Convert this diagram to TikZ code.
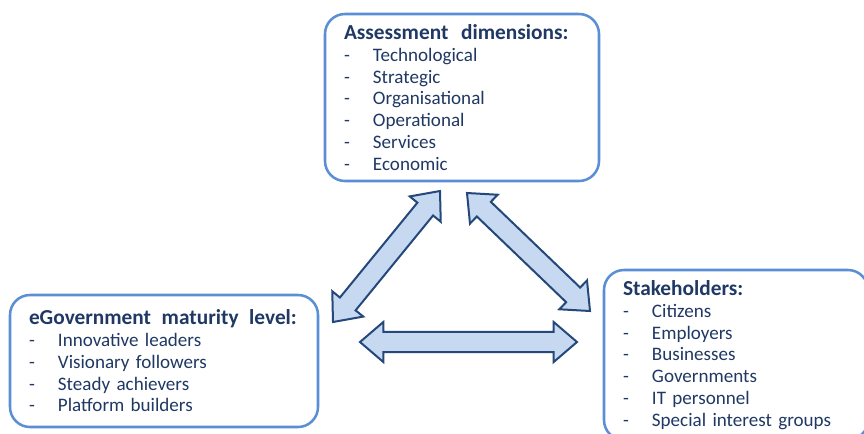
\documentclass[tikz,border=0pt]{standalone}
\usepackage{fontspec}
\setmainfont{Carlito}
\usetikzlibrary{calc}
\definecolor{txtblue}{HTML}{1F3864}
\definecolor{boxblue}{HTML}{5B8FD4}
\definecolor{arrline}{HTML}{24487A}
\definecolor{arrfill}{HTML}{C6D9F1}
\tikzset{
  roundbox/.style={draw=boxblue, line width=1.9pt, rounded corners=15pt, align=left,
    inner xsep=14.25pt, inner ysep=0pt, text=txtblue, font=\fontsize{14.3}{16.3}\selectfont},
  blockarr/.style={draw=arrline, fill=arrfill, line width=1.5pt, line join=miter}
}
\newcommand{\hd}[1]{\mbox{\fontsize{16}{16.3}\selectfont\bfseries #1}\\}
\newcommand{\itm}[1]{\makebox[21.75pt][l]{-}#1}
\newcommand{\blockarrow}[2]{%
  \draw[blockarr] (#1)
    -- ($(#1)!17.5pt!(#2)!15pt!90:(#2)$)
    -- ($(#1)!17.5pt!(#2)!7.6pt!90:(#2)$)
    -- ($(#2)!17.5pt!(#1)!7.6pt!-90:(#1)$)
    -- ($(#2)!17.5pt!(#1)!15pt!-90:(#1)$)
    -- (#2)
    -- ($(#2)!17.5pt!(#1)!15pt!90:(#1)$)
    -- ($(#2)!17.5pt!(#1)!7.6pt!90:(#1)$)
    -- ($(#1)!17.5pt!(#2)!7.6pt!-90:(#2)$)
    -- ($(#1)!17.5pt!(#2)!15pt!-90:(#2)$)
    -- cycle;}

\begin{document}
\begin{tikzpicture}[x=0.75pt,y=0.75pt,yscale=-1,xscale=1]
\useasboundingbox (0,0) rectangle (864,433);

% Box: assessment dimensions
\node[roundbox, text width=177pt, minimum height=125.25pt] (dims) at (462,97.5) {\hd{Assessment\hspace{0.3em} dimensions:}
\itm{Technological}\\
\itm{Strategic}\\
\itm{Organisational}\\
\itm{Operational}\\
\itm{Services}\\
\itm{Economic}};
% Box: maturity level
\node[roundbox, text width=202.5pt, minimum height=99pt] (level) at (164,361) {\hd{eGovernment\hspace{0.2em} maturity\hspace{0.2em} level:}
\itm{Innovative leaders}\\
\itm{Visionary followers}\\
\itm{Steady achievers}\\
\itm{Platform builders}};
% Box: stakeholders
\node[roundbox, text width=169.5pt, minimum height=127.5pt] (stake) at (736,355) {\hd{Stakeholders:}
\itm{Citizens}\\
\itm{Employers}\\
\itm{Businesses}\\
\itm{Governments}\\
\itm{IT personnel}\\
\itm{Special interest groups}};

% Arrow ends
\coordinate (levelTip) at (333,322);
\coordinate (dimsTipL) at (440,191);
\coordinate (dimsTipR) at (467,193);
\coordinate (stakeTip) at (590,311);
\coordinate (levelTipH) at (360,342);
\coordinate (stakeTipH) at (577,342);

% Block arrows
\blockarrow{levelTip}{dimsTipL}
\blockarrow{dimsTipR}{stakeTip}
\blockarrow{levelTipH}{stakeTipH}

\end{tikzpicture}
\end{document}
